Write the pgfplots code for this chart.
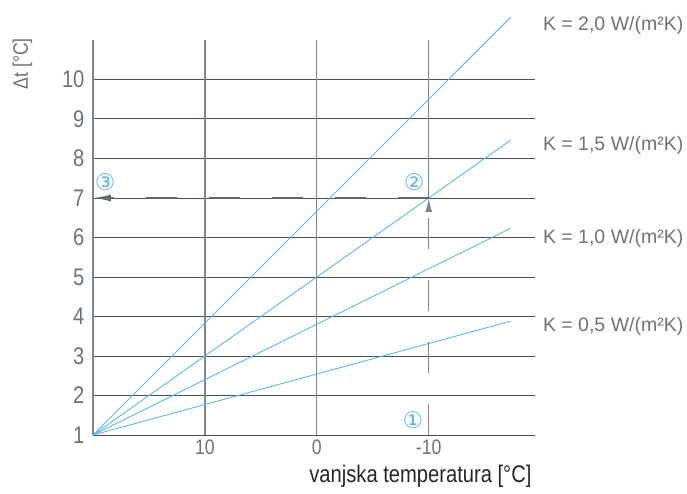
\documentclass[border=0pt]{standalone}
\usepackage{fontspec}
\setmainfont{Liberation Sans}
\newfontfamily\cond[FakeStretch=0.84]{Liberation Sans}
\newfontfamily\symfont{DejaVu Sans}
\usepackage{pgfplots}
\pgfplotsset{compat=1.18}
\usetikzlibrary{arrows.meta}
\definecolor{lineblue}{HTML}{62B6E3}
\definecolor{txtgray}{HTML}{6C7378}
\definecolor{gridh}{HTML}{46525B}
\definecolor{gridv}{HTML}{7C868C}
\definecolor{dashc}{HTML}{5E676D}
\begin{document}
\begin{tikzpicture}
\path[use as bounding box] (-93pt,-58pt) rectangle (594pt,435pt);
\begin{axis}[
  at={(0,0)}, anchor=south west,
  scale only axis, width=442pt, height=395pt,
  x dir=reverse,
  xmin=-19.5, xmax=20, ymin=1, ymax=11,
  clip=false,
  axis line style={draw=none},
  major tick length=0pt,
  xtick={10,0,-10}, xticklabels={10,0,-10},
  ytick={1,2,...,10},
  ymajorgrids=true,
  grid style={gridh, line width=1pt},
  /pgf/number format/assume math mode=true,
  yticklabel style={font=\cond\fontsize{24}{26}\selectfont, text=txtgray, xshift=-5pt},
  xticklabel style={font=\cond\fontsize{21}{23}\selectfont, text=txtgray, yshift=-1pt},
  xlabel={vanjska temperatura [°C]},
  xlabel style={font=\cond\fontsize{24}{26}\selectfont, text=black!85, anchor=north east, at={(axis description cs:1,0)}, yshift=-27pt},
  ylabel={}
]
% vertical lines
\draw[gridv, line width=1.4pt] (axis cs:20,1) -- (axis cs:20,11);
\draw[gridv, line width=1.4pt] (axis cs:10,1) -- (axis cs:10,11);
\draw[gridv, line width=1.4pt] (axis cs:0,1) -- (axis cs:0,11);
\draw[gridv, line width=1.4pt] (axis cs:-10,7) -- (axis cs:-10,11);
% K lines
\addplot[lineblue, line width=0.9pt] coordinates {(20,1) (-17.3,11.57)};
\addplot[lineblue, line width=0.9pt] coordinates {(20,1) (-17.3,8.46)};
\addplot[lineblue, line width=0.9pt] coordinates {(20,1) (-17.3,6.23)};
\addplot[lineblue, line width=0.9pt] coordinates {(20,1) (-17.3,3.88)};
% dashed construction
\draw[gridv, line width=1.6pt, dash pattern=on 31pt off 31pt, -{Latex[length=14pt,width=7pt]}] (axis cs:-10,1) -- (axis cs:-10,7);
\draw[dashc, line width=2pt, dash pattern=on 31pt off 32pt, -{Latex[length=18pt,width=7pt]}] (axis cs:-10,7) -- (axis cs:20,7);
% labels
\node[anchor=west, font=\fontsize{19.5}{22}\selectfont, text=txtgray] at (axis cs:-19.9,11.38) {K = 2,0 W/(m²K)};
\node[anchor=west, font=\fontsize{19.5}{22}\selectfont, text=txtgray] at (axis cs:-19.9,8.34) {K = 1,5 W/(m²K)};
\node[anchor=west, font=\fontsize{19.5}{22}\selectfont, text=txtgray] at (axis cs:-19.9,5.97) {K = 1,0 W/(m²K)};
\node[anchor=west, font=\fontsize{19.5}{22}\selectfont, text=txtgray] at (axis cs:-19.9,3.74) {K = 0,5 W/(m²K)};
\node[font=\symfont\fontsize{23}{24}\selectfont, text=lineblue] at (axis cs:18.9,7.4) {③};
\node[font=\symfont\fontsize{23}{24}\selectfont, text=lineblue] at (axis cs:-8.7,7.4) {②};
\node[font=\symfont\fontsize{23}{24}\selectfont, text=lineblue] at (axis cs:-8.6,1.38) {①};
\node[rotate=90, font=\cond\fontsize{21}{22}\selectfont, text=txtgray] at (axis cs:26.3,10.4) {Δt [°C]};
\end{axis}
\end{tikzpicture}
\end{document}
